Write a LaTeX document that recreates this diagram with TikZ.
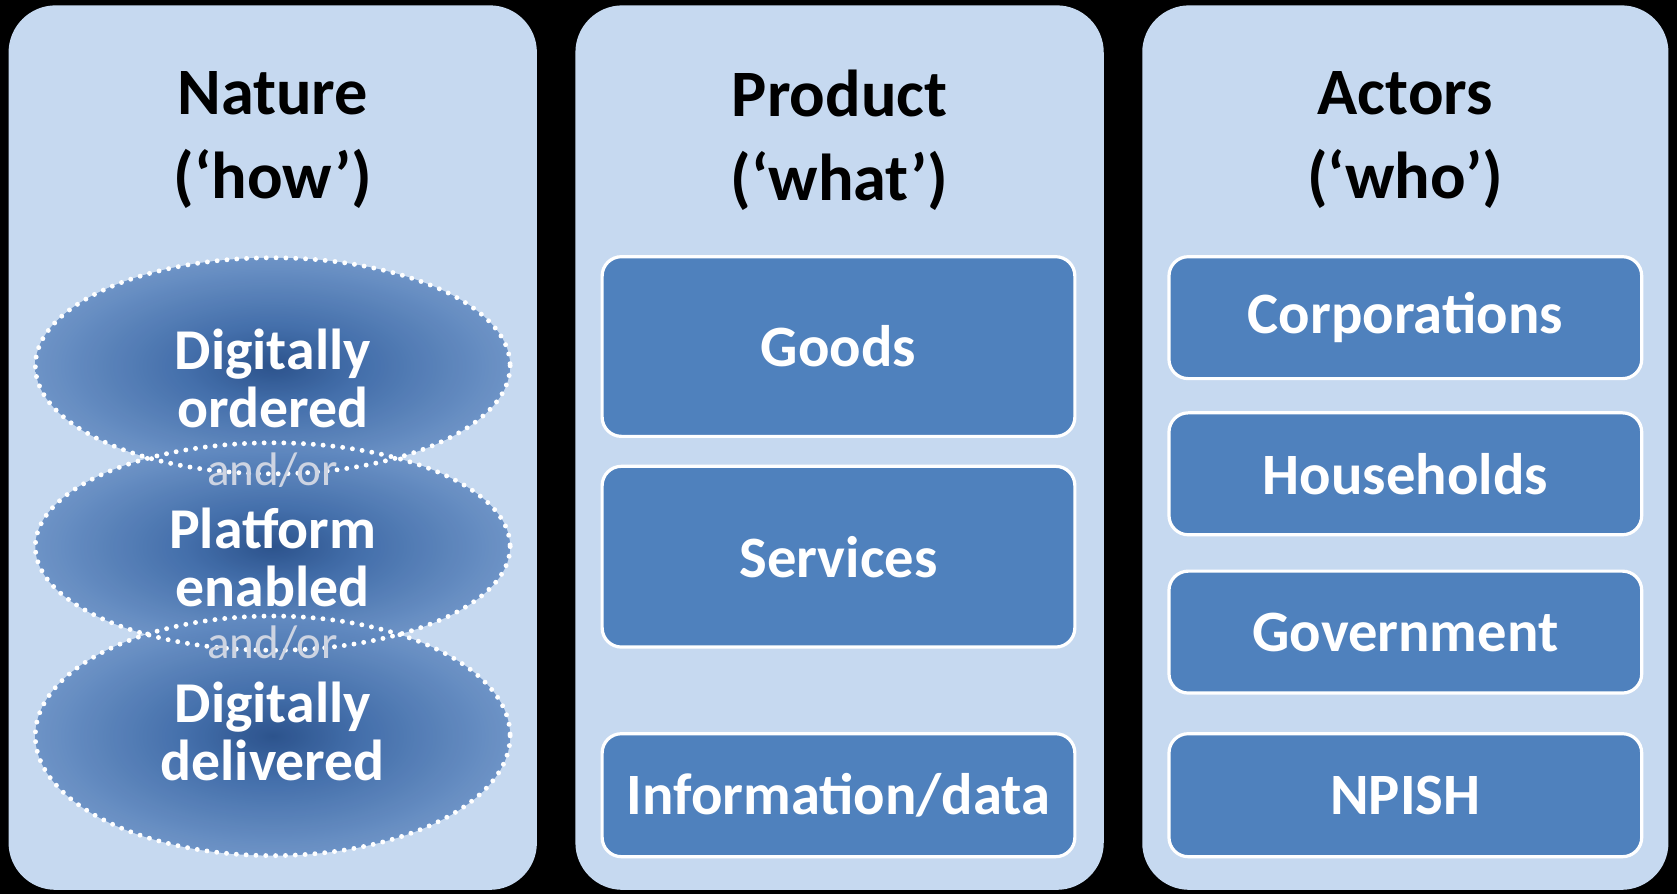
\documentclass[tikz,border=0pt]{standalone}
\usepackage{fontspec}
\setmainfont{Carlito}
\definecolor{colfill}{RGB}{198,217,240}
\definecolor{boxfill}{RGB}{79,129,189}
\definecolor{ortext}{RGB}{205,212,226}
\pgfdeclareradialshading{wayglow}{\pgfpoint{0bp}{0bp}}{rgb(0bp)=(0.11,0.27,0.51); rgb(9bp)=(0.21,0.39,0.64); rgb(30bp)=(0.45,0.60,0.80); rgb(50bp)=(0.64,0.75,0.89); rgb(100bp)=(0.64,0.75,0.89)}

\begin{document}
\begin{tikzpicture}[x=0.5pt,y=0.5pt,yscale=-1,xscale=1,
  colshape/.style={fill=colfill, rounded corners=22pt},
  title/.style={align=center, text=black, font=\fontsize{31}{39}\selectfont\bfseries},
  wayfill/.style={shading=wayglow, fill opacity=0.9},
  wayline/.style={draw=white, line width=2.3pt, dash pattern=on 0pt off 4.6pt, line cap=round},
  waytext/.style={align=center, text=white, font=\fontsize{27}{27}\selectfont\bfseries},
  ortxt/.style={text=ortext, font=\fontsize{22}{25}\selectfont},
  catbox/.style={draw=white, line width=1.5pt, fill=boxfill, rounded corners=9pt, text=white, minimum width=221pt, inner sep=0pt, font=\fontsize{27.4}{30}\selectfont\bfseries}]
%set diagram size 1568 x 836
\fill[black] (0,0) rectangle (1568,836);

%Shape: Rounded Rect [columns]
\fill[colshape] (8,5) rectangle (502,832);
\fill[colshape] (538,5) rectangle (1032,832);
\fill[colshape] (1068,5) rectangle (1560,832);

%Text Node [titles]
\node[title] (nature) at (255,131) {Nature\\(‘how’)};
\node[title] (product) at (785,131) {Product\\(‘what’)};
\node[title] (actors) at (1314,131) {Actors\\(‘who’)};

%Shape: Ellipse [fills]
\shade[wayfill] (255,342) ellipse [x radius=222, y radius=101];
\shade[wayfill] (255,511) ellipse [x radius=222, y radius=97];
\shade[wayfill] (255,688) ellipse [x radius=222, y radius=112];
%Shape: Ellipse [dotted borders]
\draw[wayline] (255,342) ellipse [x radius=222, y radius=101];
\draw[wayline] (255,511) ellipse [x radius=222, y radius=97];
\draw[wayline] (255,688) ellipse [x radius=222, y radius=112];

%Text Node [ways]
\node[waytext] (ordered) at (255,354) {Digitally\\ordered};
\node[ortxt] (or1) at (255,440) {and/or};
\node[waytext] (platform) at (255,521) {Platform\\enabled};
\node[ortxt] (or2) at (255,601) {and/or};
\node[waytext] (delivered) at (255,684) {Digitally\\delivered};

%Shape: Rounded Rect [products]
\node[catbox, minimum height=84pt] (goods) at (784,324) {Goods};
\node[catbox, minimum height=84.5pt] (services) at (784,520.5) {Services};
\node[catbox, minimum height=57.5pt] (infodata) at (784,743.5) {Information/data};

%Shape: Rounded Rect [actors]
\node[catbox, minimum height=57pt] (corporations) at (1314,297) {Corporations};
\node[catbox, minimum height=57pt] (households) at (1314,443) {Households};
\node[catbox, minimum height=57pt] (government) at (1314,591) {Government};
\node[catbox, minimum height=57.5pt] (npish) at (1314,743.5) {NPISH};

\end{tikzpicture}
\end{document}
